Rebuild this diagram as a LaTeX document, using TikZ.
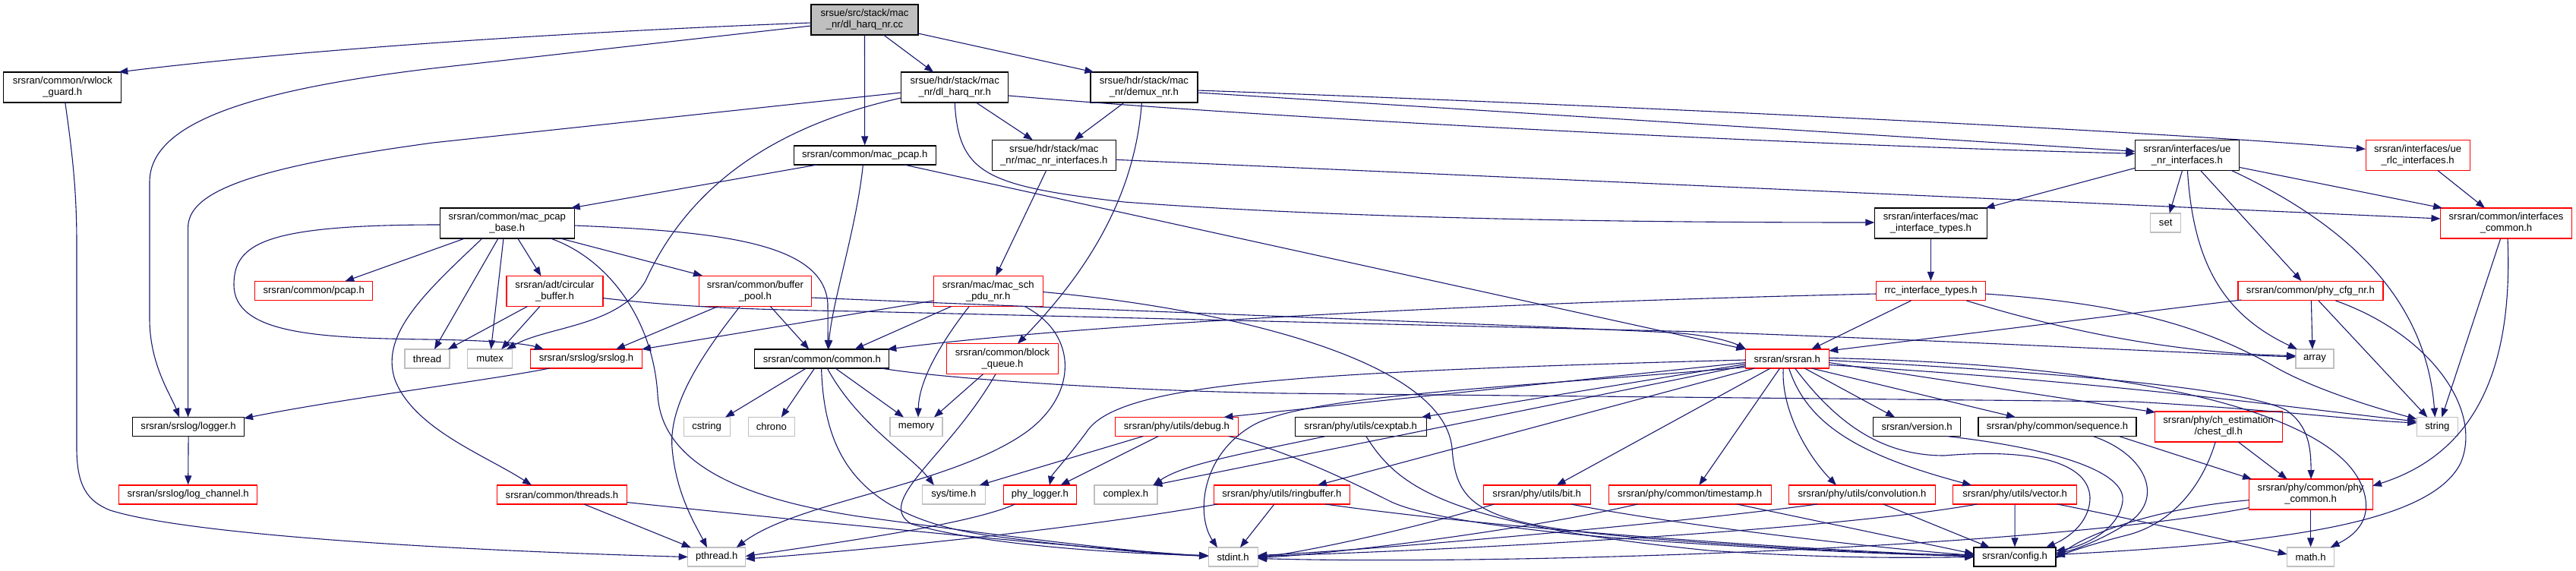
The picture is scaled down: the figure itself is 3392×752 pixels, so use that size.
\documentclass[tikz,border=0pt]{standalone}
\usepackage{fontspec}
\setmainfont{Liberation Sans}
\usetikzlibrary{arrows.meta}
\definecolor{edgec}{HTML}{191970}
\definecolor{grayc}{HTML}{BFBFBF}
\newcommand\fs{\fontsize{13.1}{15}\selectfont}
\tikzset{
  nb/.style={draw=black, line width=1.2pt, fill=white, inner sep=0pt, align=center, font=\fs, minimum height=25pt},
  two/.style={minimum height=40pt},
  rb/.style={nb, draw=red},
  gb/.style={nb, draw=grayc},
  e/.style={draw=edgec, line width=1.1pt, -{Triangle[length=12pt,width=9pt]}},
}
\begin{document}
\begin{tikzpicture}[x=1pt,y=-1pt]
\useasboundingbox (0,0) rectangle (3392,752);
% ---- nodes ----
\node[nb,two,fill=grayc,minimum width=141] (root) at (1138.5,26) {srsue/src/stack/mac\\\_nr/dl\_harq\_nr.cc};
\node[nb,two,minimum width=155] (rwlock) at (82.3,115) {srsran/common/rwlock\\\_guard.h};
\node[nb,two,minimum width=141] (dlh) at (1257.2,115) {srsue/hdr/stack/mac\\\_nr/dl\_harq\_nr.h};
\node[nb,two,minimum width=141] (demux) at (1506.4,115) {srsue/hdr/stack/mac\\\_nr/demux\_nr.h};
\node[nb,minimum width=187] (macpcap) at (1138.7,204.5) {srsran/common/mac\_pcap.h};
\node[nb,two,minimum width=163] (macnrif) at (1387.8,204.3) {srsue/hdr/stack/mac\\\_nr/mac\_nr\_interfaces.h};
\node[nb,two,minimum width=137] (uenrif) at (2879.9,204.3) {srsran/interfaces/ue\\\_nr\_interfaces.h};
\node[rb,two,minimum width=137] (uerlc) at (3183.6,204.3) {srsran/interfaces/ue\\\_rlc\_interfaces.h};
\node[nb,two,minimum width=177] (pcapbase) at (667.8,294) {srsran/common/mac\_pcap\\\_base.h};
\node[nb,two,minimum width=148] (macif) at (2542.4,294) {srsran/interfaces/mac\\\_interface\_types.h};
\node[gb,minimum width=40] (set) at (2851.7,293.5) {set};
\node[rb,two,minimum width=173] (ifcommon) at (3300,294) {srsran/common/interfaces\\\_common.h};
\node[rb,minimum width=155] (pcap) at (413.2,383) {srsran/common/pcap.h};
\node[rb,two,minimum width=127] (circ) at (730.5,383.5) {srsran/adt/circular\\\_buffer.h};
\node[rb,two,minimum width=148] (bufpool) at (994.4,383.5) {srsran/common/buffer\\\_pool.h};
\node[rb,two,minimum width=144] (macsch) at (1301.2,383.5) {srsran/mac/mac\_sch\\\_pdu\_nr.h};
\node[rb,minimum width=144] (rrc) at (2542.4,383) {rrc\_interface\_types.h};
\node[rb,minimum width=191] (phycfg) at (3042.4,383) {srsran/common/phy\_cfg\_nr.h};
\node[gb,minimum width=59] (thread) at (562.5,472.5) {thread};
\node[gb,minimum width=59] (mutex) at (645.2,472.5) {mutex};
\node[rb,minimum width=147] (srslog) at (772,472.5) {srsran/srslog/srslog.h};
\node[nb,minimum width=177] (common) at (1082.3,472.5) {srsran/common/common.h};
\node[rb,two,minimum width=147] (blockq) at (1320,472.7) {srsran/common/block\\\_queue.h};
\node[rb,minimum width=110] (srsran) at (2353.2,472.5) {srsran/srsran.h};
\node[gb,minimum width=50] (array) at (3047.9,472.5) {array};
\node[nb,minimum width=147] (logger) at (248.1,562) {srsran/srslog/logger.h};
\node[gb,minimum width=61] (cstring) at (930.6,562) {cstring};
\node[gb,minimum width=61] (chrono) at (1015.8,562) {chrono};
\node[gb,minimum width=69] (memory) at (1206.5,562) {memory};
\node[rb,minimum width=162] (debug) at (1549.4,562) {srsran/phy/utils/debug.h};
\node[nb,minimum width=173] (cexptab) at (1791.7,562) {srsran/phy/utils/cexptab.h};
\node[nb,minimum width=115] (version) at (2524.1,562) {srsran/version.h};
\node[nb,minimum width=208] (sequence) at (2709,562) {srsran/phy/common/sequence.h};
\node[rb,two,minimum width=168] (chestdl) at (2921.2,562) {srsran/phy/ch\_estimation\\/chest\_dl.h};
\node[gb,minimum width=54] (string) at (3209.3,562) {string};
\node[rb,minimum width=182] (logchannel) at (247.7,651.5) {srsran/srslog/log\_channel.h};
\node[rb,minimum width=171] (threads) at (740,651.5) {srsran/common/threads.h};
\node[gb,minimum width=83] (systime) at (1255.8,651.5) {sys/time.h};
\node[rb,minimum width=96] (phylogger) at (1369.4,651.5) {phy\_logger.h};
\node[gb,minimum width=83] (complex) at (1482.4,651.5) {complex.h};
\node[rb,minimum width=179] (ringbuffer) at (1687.9,651.5) {srsran/phy/utils/ringbuffer.h};
\node[rb,minimum width=141] (bit) at (2023.7,651.5) {srsran/phy/utils/bit.h};
\node[rb,minimum width=214] (timestamp) at (2225.2,651.5) {srsran/phy/common/timestamp.h};
\node[rb,minimum width=193] (convolution) at (2452,651.5) {srsran/phy/utils/convolution.h};
\node[rb,minimum width=163] (vector) at (2653.1,651.5) {srsran/phy/utils/vector.h};
\node[rb,two,minimum width=163] (phycommon) at (3042.6,651) {srsran/phy/common/phy\\\_common.h};
\node[gb,minimum width=76] (pthread) at (943.7,733.5) {pthread.h};
\node[gb,minimum width=65] (stdint) at (1623.6,733.5) {stdint.h};
\node[nb,minimum width=108] (config) at (2653,733.5) {srsran/config.h};
\node[gb,minimum width=62] (math) at (3042.6,733.5) {math.h};
% ---- edges ----
\draw[e] ([shift={(-70.5,4)}]root.center) .. controls (750,42) and (400,65) .. ([shift={(74,-20)}]rwlock.center);
\draw[e] ([shift={(-70.5,8)}]root.center) -- (570,90) .. controls (300,122) and (197,170) .. (197,240) -- (197,420) .. controls (197,480) and (225,520) .. ([shift={(-12,-12.5)}]logger.center);
\draw[e] (root.south) -- (macpcap.north);
\draw[e] ([shift={(25,20)}]root.center) -- ([shift={(-28,-20)}]dlh.center);
\draw[e] ([shift={(70.5,18)}]root.center) -- ([shift={(-66,-20)}]demux.center);
\draw[e] ([shift={(-70.7,7)}]dlh.center) -- (570,188) .. controls (320,222) and (247.6,255) .. (247.6,300) -- ([shift={(-0.5,-12.5)}]logger.center);
\draw[e] ([shift={(-70.7,14)}]dlh.center) .. controls (1000,170) and (900,260) .. (850,370) .. controls (815,430) and (720,430) .. ([shift={(22,-12.5)}]mutex.center);
\draw[e] ([shift={(28,20)}]dlh.center) -- ([shift={(-28,-20)}]macnrif.center);
\draw[e] ([shift={(70.8,11)}]dlh.center) .. controls (1700,158) and (2400,192) .. ([shift={(-68.6,-2)}]uenrif.center);
\draw[e] ([shift={(0,20)}]dlh.center) .. controls (1262,230) and (1300,245) .. (1480,266) .. controls (1800,290) and (2200,293) .. ([shift={(-74.1,-1)}]macif.center);
\draw[e] ([shift={(-26,20)}]demux.center) -- ([shift={(26.7,-20)}]macnrif.center);
\draw[e] ([shift={(70.6,7)}]demux.center) -- ([shift={(-68.6,-5)}]uenrif.center);
\draw[e] ([shift={(70.6,4)}]demux.center) .. controls (2100,138) and (2800,170) .. ([shift={(-68.7,-8)}]uerlc.center);
\draw[e] ([shift={(-3,20)}]demux.center) .. controls (1495,250) and (1440,350) .. ([shift={(20,-20)}]blockq.center);
\draw[e] ([shift={(-62.7,12.5)}]macpcap.center) -- ([shift={(84,-20)}]pcapbase.center);
\draw[e] ([shift={(-2.3,12.5)}]macpcap.center) .. controls (1128,300) and (1095,400) .. ([shift={(8.7,-12.5)}]common.center);
\draw[e] ([shift={(52,12.5)}]macpcap.center) -- ([shift={(-55,-12.5)}]srsran.center);
\draw[e] ([shift={(-10,20)}]macnrif.center) -- ([shift={(10,-20)}]macsch.center);
\draw[e] ([shift={(81,6)}]macnrif.center) -- ([shift={(-86.6,-6)}]ifcommon.center);
\draw[e] ([shift={(-68.6,17)}]uenrif.center) -- ([shift={(72,-20)}]macif.center);
\draw[e] ([shift={(-6.3,20)}]uenrif.center) -- ([shift={(5,-12.5)}]set.center);
\draw[e] ([shift={(0.5,20)}]uenrif.center) .. controls (2888,350) and (2930,415) .. ([shift={(-23,-12.5)}]array.center);
\draw[e] ([shift={(17.5,20)}]uenrif.center) -- ([shift={(-12,-13)}]phycfg.center);
\draw[e] ([shift={(58,20)}]uenrif.center) .. controls (3100,300) and (3195,400) .. ([shift={(-3,-12.5)}]string.center);
\draw[e] ([shift={(68.5,16)}]uenrif.center) -- ([shift={(-84,-20)}]ifcommon.center);
\draw[e] ([shift={(26,20)}]uerlc.center) -- ([shift={(-28,-20)}]ifcommon.center);
\draw[e] ([shift={(-7.3,20)}]ifcommon.center) -- ([shift={(6,-12.5)}]string.center);
\draw[e] ([shift={(2,20)}]ifcommon.center) .. controls (3310,500) and (3250,600) .. ([shift={(81.3,-11)}]phycommon.center);
\draw[e] (macif.south) -- (rrc.north);
\draw[e] ([shift={(-72,4)}]rrc.center) .. controls (1900,400) and (1400,430) .. ([shift={(86,-12.5)}]common.center);
\draw[e] ([shift={(-26,13)}]rrc.center) -- ([shift={(32,-12.5)}]srsran.center);
\draw[e] ([shift={(72,4)}]rrc.center) .. controls (2800,400) and (2900,430) .. (2990,480) .. controls (3040,510) and (3120,535) .. ([shift={(-27,-10)}]string.center);
\draw[e] ([shift={(47,13)}]rrc.center) .. controls (2700,430) and (2850,465) .. ([shift={(-25,-4)}]array.center);
\draw[e] ([shift={(-91.4,12)}]phycfg.center) -- ([shift={(55,-10.5)}]srsran.center);
\draw[e] ([shift={(1,13)}]phycfg.center) -- ([shift={(-3,-12.5)}]array.center);
\draw[e] ([shift={(10.6,13)}]phycfg.center) -- ([shift={(-13,-12.5)}]string.center);
\draw[e] ([shift={(33,13)}]phycfg.center) .. controls (3200,440) and (3270,540) .. (3240,610) .. controls (3200,690) and (3000,715) .. ([shift={(53.8,-3)}]config.center);
\draw[e] ([shift={(-55.8,20)}]pcapbase.center) -- ([shift={(41,-12.5)}]pcap.center);
\draw[e] ([shift={(-32.8,20)}]pcapbase.center) .. controls (560,385) and (500,440) .. (520,500) .. controls (545,565) and (640,600) .. ([shift={(-40,-12.5)}]threads.center);
\draw[e] ([shift={(-11.8,20)}]pcapbase.center) -- ([shift={(9.5,-12.5)}]thread.center);
\draw[e] ([shift={(-4.8,20)}]pcapbase.center) -- ([shift={(1.3,-12.5)}]mutex.center);
\draw[e] ([shift={(14,20)}]pcapbase.center) -- ([shift={(-18,-20)}]circ.center);
\draw[e] ([shift={(57,20)}]pcapbase.center) .. controls (800,340) and (860,420) .. (866,520) .. controls (872,620) and (1000,660) .. (1130,680) .. controls (1350,710) and (1500,728) .. ([shift={(-32.5,-1.5)}]stdint.center);
\draw[e] ([shift={(70,20)}]pcapbase.center) -- ([shift={(-69.4,-20.5)}]bufpool.center);
\draw[e] ([shift={(88.5,3)}]pcapbase.center) .. controls (950,305) and (1085,320) .. (1090,400) -- ([shift={(8,-12.5)}]common.center);
\draw[e] ([shift={(-88.5,2)}]pcapbase.center) .. controls (350,296) and (308,320) .. (308,375) .. controls (308,440) and (420,445) .. (560,447) .. controls (640,448) and (690,452) .. ([shift={(-56,-12.5)}]srslog.center);
\draw[e] ([shift={(-36,20)}]circ.center) -- ([shift={(27.5,-12.5)}]thread.center);
\draw[e] ([shift={(-19.6,20)}]circ.center) -- ([shift={(15,-12.5)}]mutex.center);
\draw[e] ([shift={(63,9)}]circ.center) .. controls (900,405) and (1000,408) .. (1130,410) -- (2240,437) .. controls (2600,450) and (2900,466) .. ([shift={(-25,-2.5)}]array.center);
\draw[e] ([shift={(-49,20)}]bufpool.center) -- ([shift={(39,-12.5)}]srslog.center);
\draw[e] ([shift={(-20,20)}]bufpool.center) .. controls (930,460) and (880,530) .. (885,590) .. controls (890,650) and (915,690) .. ([shift={(-12.7,-12.5)}]pthread.center);
\draw[e] ([shift={(20,20)}]bufpool.center) -- ([shift={(-17,-12.5)}]common.center);
\draw[e] ([shift={(74,8.5)}]bufpool.center) .. controls (1500,410) and (2000,428) .. (2200,438) .. controls (2250,441) and (2280,450) .. ([shift={(-54,-12.5)}]srsran.center);
\draw[e] ([shift={(-72,12.5)}]macsch.center) -- ([shift={(73,-12.5)}]srslog.center);
\draw[e] ([shift={(-48.5,20)}]macsch.center) -- ([shift={(43,-12.5)}]common.center);
\draw[e] ([shift={(-25,20)}]macsch.center) .. controls (1240,450) and (1210,500) .. ([shift={(2.5,-12.5)}]memory.center);
\draw[e] ([shift={(48,20)}]macsch.center) .. controls (1420,440) and (1420,520) .. (1350,570) .. controls (1250,640) and (1050,660) .. ([shift={(26,-12.5)}]pthread.center);
\draw[e] ([shift={(72,1)}]macsch.center) .. controls (1600,405) and (1900,470) .. (1912,590) .. controls (1918,680) and (1960,695) .. (2250,715) .. controls (2400,725) and (2500,730) .. ([shift={(-53.8,-2.5)}]config.center);
\draw[e] ([shift={(-20.7,12.5)}]common.center) -- ([shift={(24.4,-12.5)}]cstring.center);
\draw[e] ([shift={(-9.7,12.5)}]common.center) -- ([shift={(13,-12.5)}]chrono.center);
\draw[e] ([shift={(-0.7,12.5)}]common.center) .. controls (1085,600) and (1130,680) .. (1300,705) .. controls (1450,725) and (1550,731) .. ([shift={(-32.5,-1)}]stdint.center);
\draw[e] ([shift={(7,12.5)}]common.center) .. controls (1130,560) and (1200,600) .. ([shift={(-26,-12.5)}]systime.center);
\draw[e] ([shift={(17.7,12.5)}]common.center) -- ([shift={(-16.5,-12.5)}]memory.center);
\draw[e] ([shift={(78,12.5)}]common.center) .. controls (1250,500) and (1500,515) .. (1690,518) -- (2810,529) .. controls (3000,540) and (3100,553) .. ([shift={(-27,-5)}]string.center);
\draw[e] ([shift={(-25.5,20)}]blockq.center) -- ([shift={(23.5,-12.5)}]memory.center);
\draw[e] ([shift={(-9,20)}]blockq.center) .. controls (1250,600) and (1150,660) .. (1200,690) .. controls (1300,720) and (1500,730) .. ([shift={(-32.5,-2)}]stdint.center);
\draw[e] ([shift={(29,12.5)}]threads.center) -- ([shift={(-34,-12.5)}]pthread.center);
\draw[e] ([shift={(85,10)}]threads.center) .. controls (1000,680) and (1400,720) .. ([shift={(-32.5,-1)}]stdint.center);
\draw[e] ([shift={(3.5,20)}]rwlock.center) .. controls (95,200) and (101,250) .. (101,320) -- (101,590) .. controls (101,640) and (115,660) .. (145,672) .. controls (250,705) and (600,725) .. ([shift={(-38,0)}]pthread.center);
\draw[e] (logger.south) -- (logchannel.north);
\draw[e] ([shift={(-48.4,12.5)}]srslog.center) .. controls (650,500) and (450,525) .. ([shift={(73,-11)}]logger.center);
% srsran.h
\draw[e] ([shift={(-9.6,12.5)}]srsran.center) -- ([shift={(12,-12.5)}]timestamp.center);
\draw[e] ([shift={(-5,12.5)}]srsran.center) .. controls (2345,540) and (2380,600) .. ([shift={(-34,-12.5)}]convolution.center);
\draw[e] ([shift={(2.4,12.5)}]srsran.center) .. controls (2380,560) and (2450,600) .. ([shift={(-57,-12.5)}]vector.center);
\draw[e] ([shift={(10.4,12.5)}]srsran.center) .. controls (2420,560) and (2480,600) .. (2560,600) .. controls (2680,590) and (2750,610) .. (2752,655) .. controls (2752,690) and (2720,710) .. ([shift={(41,-12.5)}]config.center);
\draw[e] ([shift={(23,12.5)}]srsran.center) -- ([shift={(-29,-12.5)}]version.center);
\draw[e] ([shift={(32,12.5)}]srsran.center) -- ([shift={(-55,-12.5)}]sequence.center);
\draw[e] ([shift={(54.8,5)}]srsran.center) -- ([shift={(-83,-19)}]chestdl.center);
\draw[e] ([shift={(54.8,2)}]srsran.center) .. controls (2700,490) and (2950,510) .. (3010,540) .. controls (3040,560) and (3043,590) .. ([shift={(0.5,-20)}]phycommon.center);
\draw[e] ([shift={(54.8,8)}]srsran.center) .. controls (2800,505) and (3000,535) .. ([shift={(-27,-7)}]string.center);
\draw[e] ([shift={(54.8,-1)}]srsran.center) .. controls (2800,480) and (3070,540) .. (3110,640) .. controls (3130,690) and (3090,710) .. ([shift={(26,-12.5)}]math.center);
\draw[e] ([shift={(-54.7,5)}]srsran.center) -- ([shift={(62,-12.5)}]debug.center);
\draw[e] ([shift={(-54.7,7)}]srsran.center) -- ([shift={(80,-12.5)}]cexptab.center);
\draw[e] ([shift={(-43,12.5)}]srsran.center) -- ([shift={(47,-12.5)}]ringbuffer.center);
\draw[e] ([shift={(-22,12.5)}]srsran.center) -- ([shift={(26,-12.5)}]bit.center);
\draw[e] ([shift={(-54.7,9)}]srsran.center) -- ([shift={(36,-12.5)}]complex.center);
\draw[e] ([shift={(-54.7,1.5)}]srsran.center) .. controls (1700,490) and (1470,505) .. (1430,570) .. controls (1400,610) and (1385,625) .. ([shift={(12.6,-12.5)}]phylogger.center);
\draw[e] ([shift={(-54.7,11)}]srsran.center) .. controls (2000,510) and (1720,520) .. (1650,560) .. controls (1580,600) and (1575,680) .. ([shift={(-20.6,-12.5)}]stdint.center);
% lower rows
\draw[e] ([shift={(-44,12.5)}]debug.center) -- ([shift={(34,-12.5)}]systime.center);
\draw[e] ([shift={(-24,12.5)}]debug.center) -- ([shift={(27,-12.5)}]phylogger.center);
\draw[e] ([shift={(68.6,12.5)}]debug.center) .. controls (1700,595) and (1790,640) .. (1830,660) .. controls (1870,680) and (2000,702) .. (2250,717) .. controls (2400,726) and (2520,731) .. ([shift={(-53.8,-1)}]config.center);
\draw[e] ([shift={(-33,12.5)}]phylogger.center) .. controls (1280,690) and (1100,715) .. ([shift={(38,-1)}]pthread.center);
\draw[e] ([shift={(-85,12.5)}]ringbuffer.center) .. controls (1400,700) and (1100,728) .. ([shift={(38,2.5)}]pthread.center);
\draw[e] ([shift={(-10,12.5)}]ringbuffer.center) -- ([shift={(9.4,-12.5)}]stdint.center);
\draw[e] ([shift={(57.5,12.5)}]ringbuffer.center) .. controls (2000,700) and (2400,725) .. ([shift={(-53.8,-1)}]config.center);
\draw[e] ([shift={(-46,12.5)}]cexptab.center) .. controls (1650,595) and (1560,610) .. ([shift={(36,-12.5)}]complex.center);
\draw[e] ([shift={(7,12.5)}]cexptab.center) .. controls (1840,640) and (1900,690) .. (2250,725) .. controls (2400,735) and (2500,735) .. ([shift={(-53.8,0)}]config.center);
\draw[e] ([shift={(-56.5,12.5)}]bit.center) .. controls (1850,700) and (1700,730) .. ([shift={(32.6,0)}]stdint.center);
\draw[e] ([shift={(45,12.5)}]bit.center) .. controls (2200,690) and (2450,720) .. ([shift={(-53.8,-2)}]config.center);
\draw[e] ([shift={(-69,12.5)}]timestamp.center) .. controls (2000,700) and (1750,730) .. ([shift={(32.6,1)}]stdint.center);
\draw[e] ([shift={(62,12.5)}]timestamp.center) -- ([shift={(-53.8,-4)}]config.center);
\draw[e] ([shift={(-59,12.5)}]convolution.center) .. controls (2200,690) and (1800,725) .. ([shift={(32.6,-2)}]stdint.center);
\draw[e] ([shift={(28,12.5)}]convolution.center) -- ([shift={(-33,-12.5)}]config.center);
\draw[e] ([shift={(-49.6,12.5)}]vector.center) .. controls (2400,700) and (1900,725) .. ([shift={(32.6,-1)}]stdint.center);
\draw[e] (vector.south) -- (config.north);
\draw[e] ([shift={(56,12.5)}]vector.center) .. controls (2800,682) and (2950,715) .. ([shift={(-31,-3.5)}]math.center);
\draw[e] ([shift={(39,12.5)}]version.center) .. controls (2700,590) and (2800,620) .. (2795,660) .. controls (2790,700) and (2740,720) .. ([shift={(54,-8)}]config.center);
\draw[e] ([shift={(47,12.5)}]sequence.center) .. controls (2830,600) and (2850,660) .. (2800,690) .. controls (2765,712) and (2730,725) .. ([shift={(54,-5)}]config.center);
\draw[e] ([shift={(81,12.5)}]sequence.center) -- ([shift={(-77.6,-20)}]phycommon.center);
\draw[e] ([shift={(26,20)}]chestdl.center) -- ([shift={(-31,-20)}]phycommon.center);
\draw[e] ([shift={(-4,20)}]chestdl.center) .. controls (2900,640) and (2860,690) .. (2800,705) .. controls (2760,715) and (2730,725) .. ([shift={(53.8,0)}]config.center);
\draw[e] (phycommon.south) -- (math.north);
\draw[e] ([shift={(-81.4,7.7)}]phycommon.center) .. controls (2850,668) and (2750,700) .. ([shift={(53.8,2)}]config.center);
\draw[e] ([shift={(-81.4,17.7)}]phycommon.center) .. controls (2700,720) and (2000,745) .. ([shift={(32.6,2)}]stdint.center);
\end{tikzpicture}
\end{document}
